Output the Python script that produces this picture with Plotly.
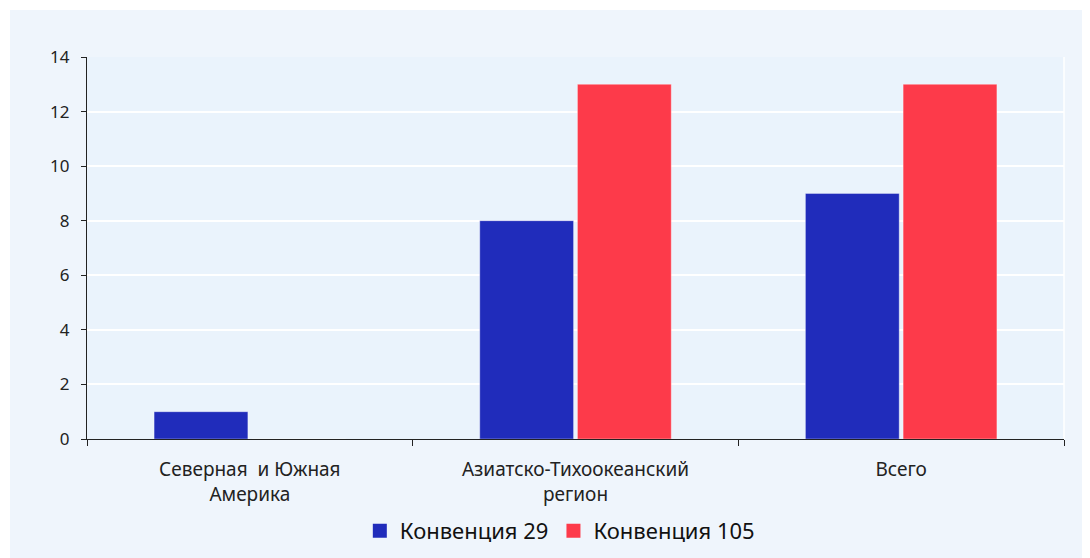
import plotly.graph_objects as go

categories = ["Северная  и Южная<br>Америка", "Азиатско-Тихоокеанский<br>регион", "Всего"]
series_names = ["Конвенция 29", "Конвенция 105"]
conv29 = [1, 8, 9]
conv105 = [0, 13, 13]
colors = ["#202CBB", "#FD3A4A"]

# page has an 8px body margin, so the figure is sized to fill the rest of the window
W, H = 1082, 550
L, R, T, B = 79, 26, 49, 119
pw, ph = W - L - R, H - T - B

fig = go.Figure()
for name, vals, col in zip(series_names, [conv29, conv105], colors):
    fig.add_trace(go.Bar(x=categories, y=vals, name=name, showlegend=False,
                         marker=dict(color=col, line=dict(width=0.6, color="rgba(255,255,255,0.6)"))))
for name, col in zip(series_names, colors):
    fig.add_trace(go.Scatter(x=[None], y=[None], mode="markers", name=name, showlegend=True,
                             marker=dict(symbol="square", size=14, color=col)))

bg = "#EFF5FC"
fig.update_layout(
    width=W, height=H,
    margin=dict(l=L, r=R, t=T, b=B, autoexpand=False),
    paper_bgcolor=bg,
    plot_bgcolor="#EAF3FC",
    barmode="group", bargap=0.40, bargroupgap=0.04,
    font=dict(family="Noto Sans", size=17, color="#222222"),
    showlegend=True,
    legend=dict(orientation="h", xref="container", yref="container", x=0.51, xanchor="center",
                y=1 - 523 / H, yanchor="middle",
                font=dict(size=22, color="#111111"), bgcolor="rgba(0,0,0,0)",
                itemwidth=30, traceorder="normal"),
    xaxis=dict(showline=True, linecolor="#222222", linewidth=1.3, ticks="outside",
               tickson="boundaries", ticklen=6, tickcolor="#222222", showgrid=False,
               ticklabelstandoff=13, automargin=False,
               tickfont=dict(size=19, color="#222222")),
    yaxis=dict(range=[0, 14], dtick=2, showline=True, linecolor="#222222", linewidth=1.3,
               ticks="outside", ticklen=5, tickcolor="#222222", gridcolor="white", gridwidth=1.5,
               zeroline=False, ticklabelstandoff=8, automargin=False,
               tickfont=dict(size=17, color="#222222")),
    shapes=[
        dict(type="rect", xref="paper", yref="paper", x0=-L / pw - 0.01, x1=1 + R / pw + 0.01,
             y0=1 + (T - 2) / ph, y1=1 + T / ph + 0.01, fillcolor="white", line=dict(width=0), layer="below"),
        dict(type="rect", xref="paper", yref="paper", x0=-L / pw - 0.01, x1=-(L - 2) / pw,
             y0=-B / ph - 0.01, y1=1 + T / ph + 0.01, fillcolor="white", line=dict(width=0), layer="below"),
        dict(type="line", xref="paper", yref="paper", x0=1, x1=1, y0=0, y1=1,
             line=dict(color="white", width=1.5), layer="below"),
    ],
)
fig.write_html("out.html")
